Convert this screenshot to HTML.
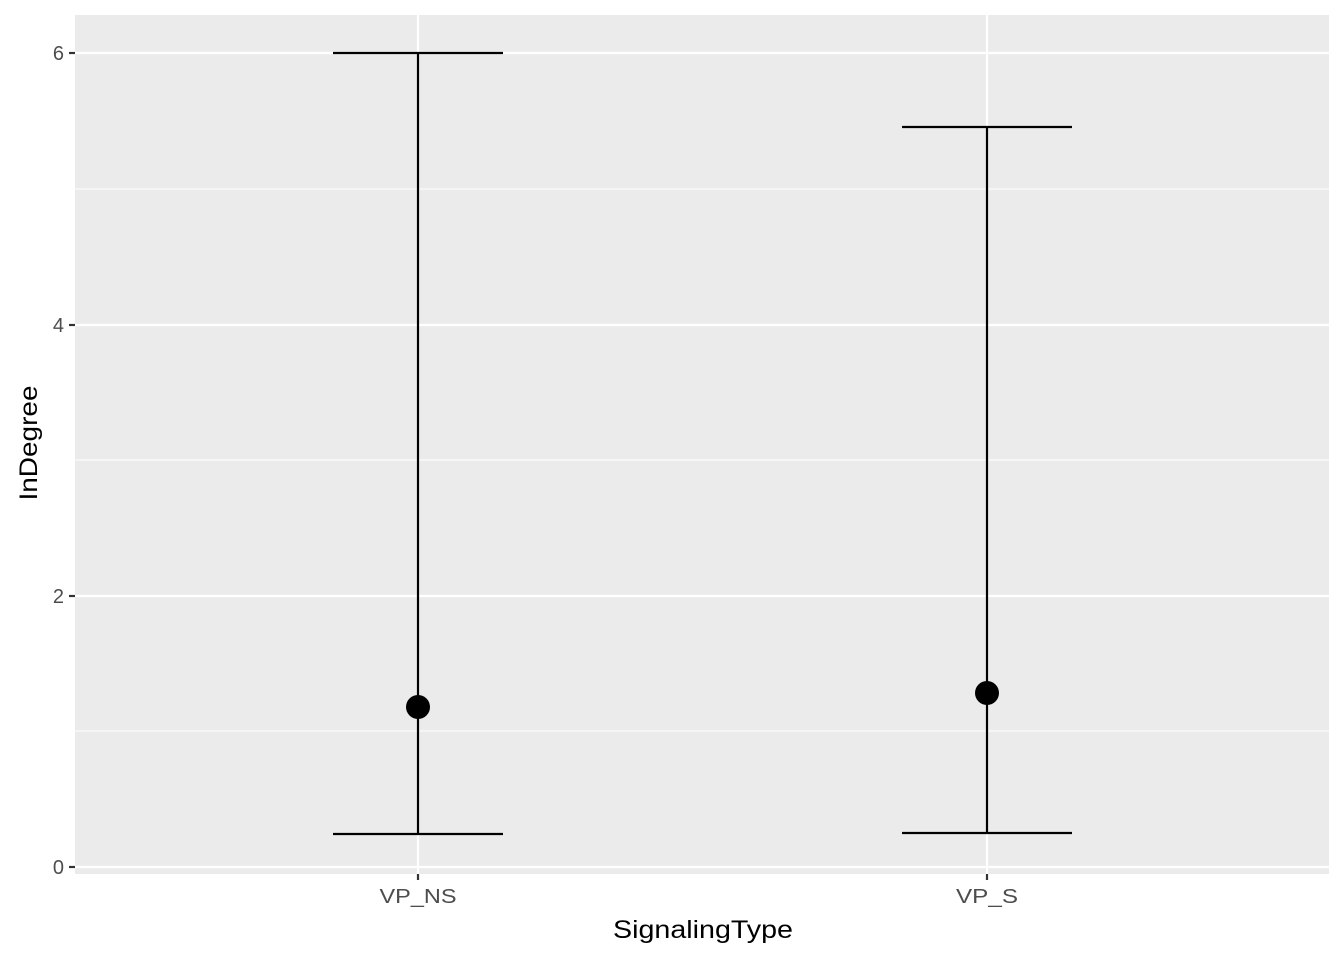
<!DOCTYPE html>
<html><head><meta charset="utf-8"><style>body{margin:0;background:#fff}</style></head>
<body>
<svg width="1344" height="960" xmlns="http://www.w3.org/2000/svg" font-family="Liberation Sans, sans-serif">
<rect x="75" y="15" width="1254" height="859" fill="#ebebeb"/>
<g stroke="#fff" stroke-width="1.1">
<line x1="75" x2="1329" y1="731" y2="731"/>
<line x1="75" x2="1329" y1="460" y2="460"/>
<line x1="75" x2="1329" y1="189" y2="189"/>
</g>
<g stroke="#fff" stroke-width="2.2">
<line x1="75" x2="1329" y1="867" y2="867"/>
<line x1="75" x2="1329" y1="596" y2="596"/>
<line x1="75" x2="1329" y1="325" y2="325"/>
<line x1="75" x2="1329" y1="53" y2="53"/>
<line x1="418" x2="418" y1="15" y2="874"/>
<line x1="987" x2="987" y1="15" y2="874"/>
</g>
<g stroke="#333" stroke-width="2.2">
<line x1="69" x2="75" y1="867" y2="867"/>
<line x1="69" x2="75" y1="596" y2="596"/>
<line x1="69" x2="75" y1="325" y2="325"/>
<line x1="69" x2="75" y1="53" y2="53"/>
<line x1="418" x2="418" y1="874" y2="880"/>
<line x1="987" x2="987" y1="874" y2="880"/>
</g>
<g font-size="20" fill="#4d4d4d" text-anchor="end">
<text x="64" y="874">0</text>
<text x="64" y="603">2</text>
<text x="64" y="332">4</text>
<text x="64" y="60">6</text>
</g>
<g font-size="20" fill="#4d4d4d" text-anchor="middle">
<text x="418" y="903" textLength="77" lengthAdjust="spacingAndGlyphs">VP_NS</text>
<text x="987" y="903" textLength="62" lengthAdjust="spacingAndGlyphs">VP_S</text>
</g>
<text x="703" y="938" font-size="25" text-anchor="middle" fill="#000" textLength="180" lengthAdjust="spacingAndGlyphs">SignalingType</text>
<text transform="translate(37,443) rotate(-90)" font-size="25" text-anchor="middle" fill="#000" textLength="115" lengthAdjust="spacingAndGlyphs">InDegree</text>
<g stroke="#000" stroke-width="2.2">
<line x1="418" x2="418" y1="53" y2="834"/>
<line x1="333" x2="503" y1="53" y2="53"/>
<line x1="333" x2="503" y1="834" y2="834"/>
<line x1="987" x2="987" y1="127" y2="833"/>
<line x1="902" x2="1072" y1="127" y2="127"/>
<line x1="902" x2="1072" y1="833" y2="833"/>
</g>
<circle cx="418" cy="707" r="12" fill="#000"/>
<circle cx="987" cy="693" r="12" fill="#000"/>
</svg>
</body></html>
